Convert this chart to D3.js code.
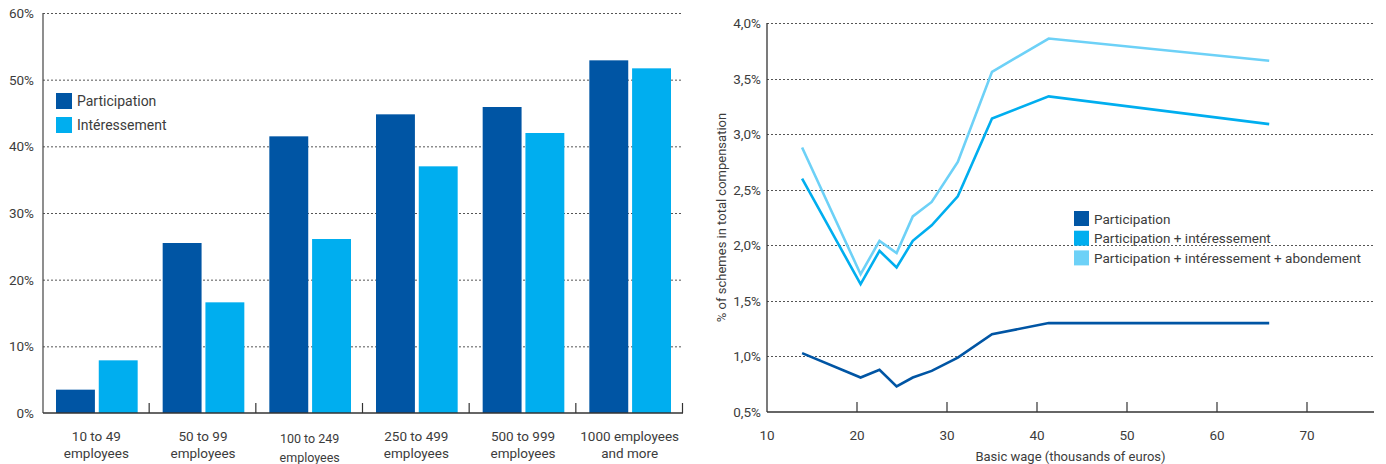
<!DOCTYPE html>
<html>
<head>
<meta charset="utf-8">
<script src="https://cdn.jsdelivr.net/npm/d3@7"></script>
<style>
  html, body { margin: 0; padding: 0; background: #fff; }
  svg text { font-family: Roboto, "Liberation Sans", Arial, sans-serif; fill: #3c3c3c; }
</style>
</head>
<body>
<svg id="chart" width="1386" height="464"></svg>
<script>
// Left panel: share of companies with each scheme, by company size
const sizeCategories = [
  ["10 to 49", "employees"],
  ["50 to 99", "employees"],
  ["100 to 249", "employees"],
  ["250 to 499", "employees"],
  ["500 to 999", "employees"],
  ["1000 employees", "and more"]
];
const participationShare = [3.5, 25.5, 41.5, 44.8, 45.9, 52.9];
const interessementShare = [7.9, 16.6, 26.1, 37.0, 42.0, 51.7];
const barSeries = ["Participation", "Intéressement"];
const shareTicks = [0, 10, 20, 30, 40, 50, 60];

// Right panel: weight of schemes in total compensation, by basic wage
const wageThousands = [13.9, 20.4, 22.5, 24.4, 26.2, 28.3, 31.2, 35.0, 41.3, 65.8];
const participationPct = [1.03, 0.81, 0.88, 0.73, 0.81, 0.87, 0.99, 1.20, 1.30, 1.30];
const partInteressPct = [2.60, 1.65, 1.95, 1.80, 2.04, 2.18, 2.44, 3.14, 3.34, 3.09];
const partInteressAbondPct = [2.88, 1.74, 2.04, 1.93, 2.26, 2.39, 2.75, 3.56, 3.86, 3.66];
const lineSeries = ["Participation", "Participation + intéressement", "Participation + intéressement + abondement"];
const compTicks = [0.5, 1.0, 1.5, 2.0, 2.5, 3.0, 3.5, 4.0];
const wageTicks = [10, 20, 30, 40, 50, 60, 70];

const DARK = "#0055a4", MID = "#00aeef", LIGHT = "#6dd1f7";
const GRID = "#555";

const svg = d3.select("#chart");

// ---------- bar chart ----------
{
  const left = 43, right = 683, top = 13, bottom = 413;
  const x = d3.scaleBand().domain(d3.range(sizeCategories.length)).range([left, right]).paddingInner(0).paddingOuter(0);
  const y = d3.scaleLinear().domain([0, 60]).range([bottom, top]);
  const inner = d3.scaleBand().domain([0, 1]).range([13, x.bandwidth() - 12]).paddingInner(0.09);
  const g = svg.append("g");

  // dotted gridlines
  g.selectAll("line.grid").data(shareTicks.filter(t => t > 0)).join("line")
    .attr("x1", left).attr("x2", right)
    .attr("y1", d => y(d) + 0.5).attr("y2", d => y(d) + 0.5)
    .attr("stroke", GRID).attr("stroke-width", 1).attr("stroke-dasharray", "2,2");

  // bars
  const series = [participationShare, interessementShare];
  const colors = [DARK, MID];
  series.forEach((vals, s) => {
    g.selectAll("rect.s" + s).data(vals).join("rect")
      .attr("x", (d, i) => x(i) + inner(s))
      .attr("width", inner.bandwidth())
      .attr("y", d => y(d))
      .attr("height", d => y(0) - y(d))
      .attr("fill", colors[s]);
  });

  // y axis labels
  g.selectAll("text.yt").data(shareTicks).join("text")
    .attr("x", 34).attr("y", d => y(d) + 5)
    .attr("text-anchor", "end").attr("font-size", 13.5)
    .text(d => d + "%");

  // axis lines
  g.append("line").attr("x1", left).attr("x2", left).attr("y1", top).attr("y2", bottom)
    .attr("stroke", "#444").attr("stroke-width", 1.2);
  g.append("line").attr("x1", left).attr("x2", right).attr("y1", bottom).attr("y2", bottom)
    .attr("stroke", "#333").attr("stroke-width", 1.5);
  // band separators as ticks
  g.selectAll("line.tk").data(d3.range(1, sizeCategories.length + 1)).join("line")
    .attr("x1", i => (i < sizeCategories.length ? x(i) : right) - 0.5)
    .attr("x2", i => (i < sizeCategories.length ? x(i) : right) - 0.5)
    .attr("y1", bottom).attr("y2", bottom - 10)
    .attr("stroke", "#333").attr("stroke-width", 1.2);

  // category labels
  sizeCategories.forEach((lines, i) => {
    const small = lines[0].length === 10 && lines[0].startsWith("100 ");
    const t = g.append("text")
      .attr("x", x(i) + x.bandwidth() / 2)
      .attr("text-anchor", "middle")
      .attr("font-size", small ? 12.5 : 13.5);
    lines.forEach((ln, k) => {
      t.append("tspan").attr("x", x(i) + x.bandwidth() / 2)
        .attr("y", (small ? 443 : 441) + k * (small ? 19 : 17))
        .text(ln);
    });
  });

  // legend
  const lg = g.append("g");
  barSeries.forEach((name, i) => {
    lg.append("rect").attr("x", 56).attr("y", 93 + i * 24).attr("width", 16).attr("height", 16).attr("fill", colors[i]);
    lg.append("text").attr("x", 77).attr("y", 106 + i * 24).attr("font-size", 14).text(name);
  });
}

// ---------- line chart ----------
{
  const left = 767, right = 1374, top = 23, bottom = 412;
  const x = d3.scaleLinear().domain([10, 10 + (right - left) / 9]).range([left, right]);
  const y = d3.scaleLinear().domain([0.5, 4.0]).range([bottom, top]);
  const g = svg.append("g");
  const fmt = v => d3.format(".1f")(v).replace(".", ",") + "%";

  g.selectAll("line.grid").data(compTicks.filter(t => t > 0.5)).join("line")
    .attr("x1", left).attr("x2", right)
    .attr("y1", d => Math.round(y(d)) + 0.5).attr("y2", d => Math.round(y(d)) + 0.5)
    .attr("stroke", GRID).attr("stroke-width", 1).attr("stroke-dasharray", "2,2");

  g.selectAll("text.yt").data(compTicks).join("text")
    .attr("x", 761).attr("y", d => y(d) + 5)
    .attr("text-anchor", "end").attr("font-size", 13.5)
    .text(fmt);

  g.selectAll("text.xt").data(wageTicks).join("text")
    .attr("x", d => x(d)).attr("y", 440)
    .attr("text-anchor", "middle").attr("font-size", 13.5)
    .text(d => d);

  g.append("line").attr("x1", left).attr("x2", left).attr("y1", top).attr("y2", bottom)
    .attr("stroke", "#333").attr("stroke-width", 1.3);
  g.append("line").attr("x1", left).attr("x2", right).attr("y1", bottom).attr("y2", bottom)
    .attr("stroke", "#333").attr("stroke-width", 1.5);
  g.selectAll("line.tk").data(wageTicks.filter(t => t > 10)).join("line")
    .attr("x1", d => x(d)).attr("x2", d => x(d))
    .attr("y1", bottom).attr("y2", bottom - 10)
    .attr("stroke", "#333").attr("stroke-width", 1.2);

  g.append("text").attr("x", (left + right) / 2).attr("y", 461)
    .attr("text-anchor", "middle").attr("font-size", 13).text("Basic wage (thousands of euros)");
  g.append("text").attr("transform", `translate(726,${(top + bottom) / 2}) rotate(-90)`)
    .attr("text-anchor", "middle").attr("font-size", 13).text("% of schemes in total compensation");

  const line = d3.line().x((d, i) => x(wageThousands[i])).y(d => y(d));
  const lineData = [participationPct, partInteressPct, partInteressAbondPct];
  const lineColors = [DARK, MID, LIGHT];
  [2, 1, 0].forEach(s => {
    g.append("path").datum(lineData[s]).attr("d", line)
      .attr("fill", "none").attr("stroke", lineColors[s]).attr("stroke-width", 2.6)
      .attr("stroke-linejoin", "miter");
  });

  lineSeries.forEach((name, i) => {
    g.append("rect").attr("x", 1074).attr("y", 211 + i * 19.7).attr("width", 15).attr("height", 15).attr("fill", lineColors[i]);
    g.append("text").attr("x", 1094).attr("y", 223.5 + i * 19.7).attr("font-size", 13.5).text(name);
  });
}
</script>
</body>
</html>
